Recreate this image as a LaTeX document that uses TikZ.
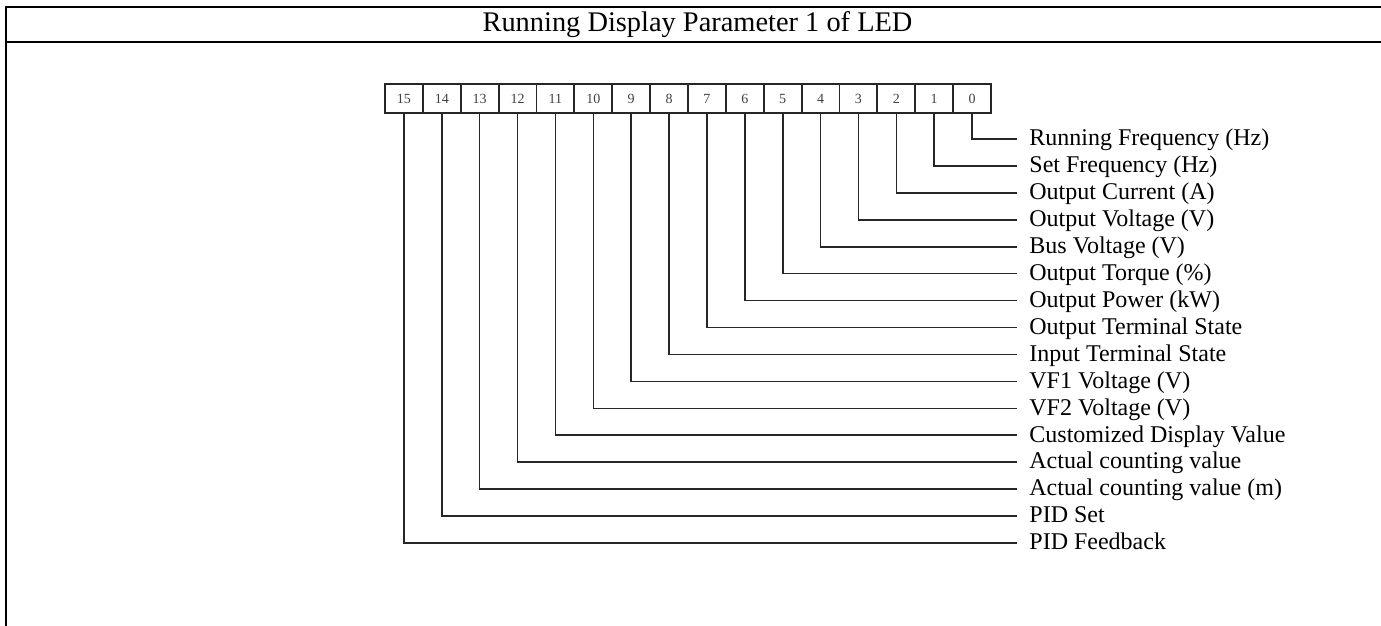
\documentclass[tikz,border=0pt]{standalone}
\usepackage{fontspec}
\setmainfont{Liberation Serif}
\begin{document}
\begin{tikzpicture}[x=0.5pt,y=-0.5pt,
  frame/.style={line width=1pt},
  cell/.style={draw=black!85, line width=0.9pt, minimum width=18.94pt, minimum height=14.5pt, inner sep=0pt, font=\fontsize{7}{7}\selectfont, text=black!75},
  lbl/.style={anchor=west, inner xsep=6pt, inner ysep=0pt, text height=1.48ex, text depth=0pt, font=\fontsize{12}{12}\selectfont},
  ttl/.style={inner sep=0pt, text height=1.48ex, text depth=0pt, font=\fontsize{14.2}{14.2}\selectfont},
  wire/.style={line width=0.8pt, draw=black!85}]
\useasboundingbox (0,0) rectangle (1381,626);
\coordinate (tl) at (6,7.5);
\coordinate (tr) at (1385,7.5);
\coordinate (sl) at (6,42);
\coordinate (sr) at (1385,42);
\coordinate (bl) at (6,630);
\draw[frame] (tr) -- (tl) -- (bl);
\draw[frame] (sl) -- (sr);
\node[ttl] (title) at (697.5,25) {Running Display Parameter 1 of LED};
\foreach \i/\t in {0/Running Frequency (Hz), 1/Set Frequency (Hz), 2/Output Current (A), 3/Output Voltage (V), 4/Bus Voltage (V), 5/Output Torque (\%), 6/Output Power (kW), 7/Output Terminal State, 8/Input Terminal State, 9/VF1 Voltage (V), 10/VF2 Voltage (V), 11/Customized Display Value, 12/Actual counting value, 13/Actual counting value (m), 14/PID Set, 15/PID Feedback}{
  \node[cell] (b\i) at ({385+(15-\i)*37.875+18.94},98.5) {\i};
  \node[lbl] (l\i) at (1017,{139+\i*26.93}) {\t};
  \draw[wire] (b\i.south) |- (l\i.west);
}
\end{tikzpicture}
\end{document}
